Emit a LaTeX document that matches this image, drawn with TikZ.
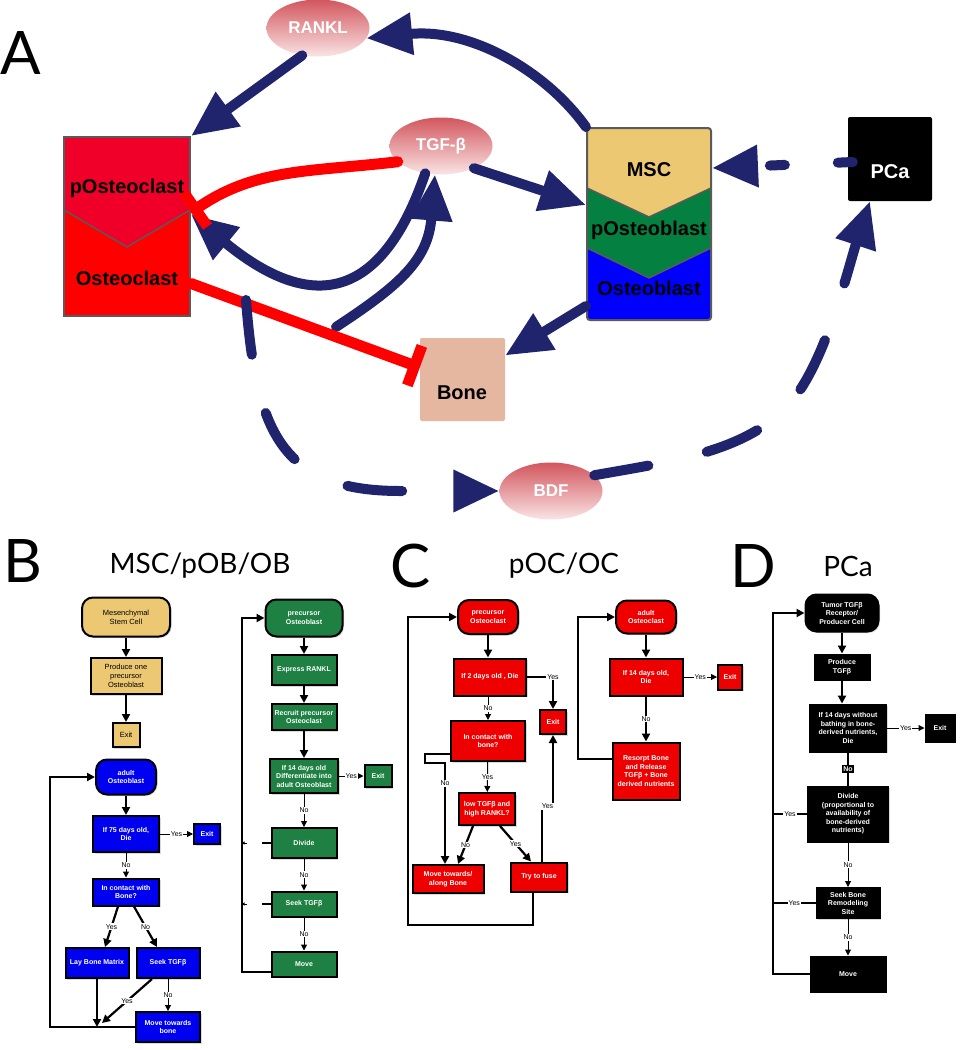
\documentclass[tikz,border=0pt]{standalone}
\usepackage{fontspec}
\setmainfont{Liberation Sans}
\newfontfamily\gillfont{Lato}
\usetikzlibrary{arrows.meta,shapes.geometric,shadows}

\definecolor{navy}{RGB}{32,36,108}
\definecolor{sigtop}{RGB}{210,86,94}
\definecolor{sigbot}{RGB}{250,228,228}
\definecolor{pocred}{RGB}{240,0,40}
\definecolor{ocred}{RGB}{255,0,0}
\definecolor{mscyellow}{RGB}{236,200,114}
\definecolor{obgreen}{RGB}{4,128,64}
\definecolor{obblue}{RGB}{0,0,255}
\definecolor{bonecol}{RGB}{230,183,160}
\definecolor{framegray}{RGB}{90,90,90}
\definecolor{flowred}{RGB}{238,0,0}
\definecolor{flowgreen}{RGB}{30,128,66}
\definecolor{flowblue}{RGB}{0,0,240}

\tikzset{
  panel/.style={font=\gillfont\fontsize{60}{60}\selectfont},
  heading/.style={font=\gillfont\fontsize{28}{30}\selectfont},
  celltext/.style={font=\fontsize{20}{22}\selectfont\bfseries, inner sep=0pt},
  signal/.style={ellipse, minimum width=103pt, minimum height=57pt, top color=sigtop, bottom color=sigbot,
    text=white, font=\fontsize{17}{19}\selectfont\bfseries},
  act/.style={draw=navy, line width=10pt, line cap=round, -{Triangle[length=46pt,width=40pt]}},
  dashact/.style={act, dash pattern=on 55pt off 60pt},
  inhib/.style={draw=ocred, line width=11pt, line cap=round, -{Bar[width=42pt]}},
  fbox/.style={rectangle, draw=black, line width=2pt, inner sep=1pt, align=center, text=white,
    font=\fontsize{7}{8.5}\selectfont\bfseries,
    drop shadow={opacity=0.3, shadow xshift=1.5pt, shadow yshift=-1.5pt}},
  fterm/.style={fbox, rounded corners=11pt},
  yellowbox/.style={fill=mscyellow, text=black, font=\fontsize{7.5}{9}\selectfont},
  fthick/.style={line width=2.2pt, -{Triangle[length=8pt,width=8pt]}},
  fthin/.style={line width=1pt, -{Triangle[length=6pt,width=6pt]}},
  lbl/.style={fill=white, inner sep=1pt, font=\fontsize{7}{8}\selectfont},
  nolbl/.style={fill=black, text=white, inner sep=1.5pt, font=\fontsize{7}{8}\selectfont\bfseries},
}

\begin{document}
\begin{tikzpicture}[x=1pt, y=-1pt]
\useasboundingbox (0,0) rectangle (961,1050);

% A: cells and signals
\node[panel] (labA) at (21,53) {A};

\node[signal] (rankl) at (318,28) {RANKL};
\node[signal] (tgf) at (441,146) {TGF-β};
\node[signal] (bdf) at (551,491) {BDF};

% osteoclast lineage
\fill[pocred] (64,137) -- (190,137) -- (190,210) -- (127,247) -- (64,210) -- cycle;
\fill[ocred] (64,210) -- (127,247) -- (190,210) -- (190,316) -- (64,316) -- cycle;
\draw[framegray, line width=1.5pt] (64,210) -- (127,247) -- (190,210);
\node[draw=framegray, line width=2pt, minimum width=126pt, minimum height=179pt, inner sep=0pt] (oc) at (127,226.5) {};
\node[celltext] (poclab) at (127,188) {pOsteoclast};
\node[celltext] (oclab) at (127,278) {Osteoclast};

% osteoblast lineage
\fill[mscyellow] (587,128) -- (711,128) -- (711,188) -- (649,217) -- (587,188) -- cycle;
\fill[obgreen] (587,188) -- (649,217) -- (711,188) -- (711,248) -- (649,278) -- (587,248) -- cycle;
\fill[obblue] (587,248) -- (649,278) -- (711,248) -- (711,320) -- (587,320) -- cycle;
\draw[framegray, line width=1.5pt] (587,188) -- (649,217) -- (711,188);
\draw[framegray, line width=1.5pt] (587,248) -- (649,278) -- (711,248);
\node[draw=framegray, line width=2pt, rounded corners=3pt, minimum width=124pt, minimum height=192pt, inner sep=0pt] (msc) at (649,224) {};
\node[celltext] (msclab) at (649,170) {MSC};
\node[celltext] (poblab) at (649,230) {pOsteoblast};
\node[celltext] (oblab) at (649,288) {Osteoblast};

\node[fill=bonecol, minimum width=85pt, minimum height=83pt, rounded corners=2pt] (bone) at (462.5,379.5) {};
\node[celltext] (bonelab) at (462,393) {Bone};
\node[fill=black, minimum width=84pt, minimum height=84pt, rounded corners=2pt] (pca) at (890,159) {};
\node[celltext, text=white] (pcalab) at (890,172) {PCa};

\coordinate (ocloop) at (246,300);
\coordinate (boneloop) at (336,327);

% activation
\draw[act] (msc.north west) .. controls (545,70) and (470,28) .. (rankl.-12);
\draw[act] (rankl.-120) -- (oc.north east);
\draw[act] (tgf.-34) -- ([yshift=19pt]msc.west);
\draw[act] (tgf.240) .. controls (375,320) and (295,300) .. ([yshift=12pt]oc.east);
\draw[act] (boneloop) .. controls (400,285) and (428,260) .. (tgf.-102);
\draw[act] ([yshift=15pt]msc.south west) -- ([yshift=24pt]bone.east);
% inhibition
\draw[inhib] (tgf.200) .. controls (310,172) and (255,168) .. ([yshift=14pt]oc.east);
\draw[inhib] ([yshift=-57pt]oc.east) -- ([yshift=12pt]bone.west);
% dashed loops
\draw[dashact] (ocloop) .. controls (256,430) and (280,491) .. (400,491) -- (bdf.west);
\draw[dashact] (bdf.20) .. controls (680,460) and (760,450) .. (800,390)
  .. controls (830,345) and (850,262) .. ([xshift=-20pt]pca.south);
\draw[act, dash pattern=on 15pt off 53pt] ([xshift=5pt,yshift=-3pt]pca.west) -- ([yshift=56pt]msc.east);

% B: MSC/pOB/OB
\node[panel] (labB) at (23,561) {B};
\node[heading] (headB) at (200,566) {MSC/pOB/OB};

\node[fterm, yellowbox, minimum width=88pt, minimum height=39pt] (mscB) at (126,617) {Mesenchymal\\Stem Cell};
\node[fbox, yellowbox, minimum width=71pt, minimum height=36pt] (produceB) at (126,676) {Produce one\\precursor\\Osteoblast};
\node[fbox, yellowbox, minimum width=27pt, minimum height=24pt] (exitB1) at (126,735) {Exit};
\node[fterm, fill=flowblue, minimum width=60pt, minimum height=35pt] (adultOB) at (126,777) {adult\\Osteoblast};
\node[fbox, fill=flowblue, minimum width=66pt, minimum height=36pt] (die75) at (126,834) {If 75 days old,\\Die};
\node[fbox, fill=flowblue, minimum width=26pt, minimum height=20pt] (exitB2) at (207,834) {Exit};
\node[fbox, fill=flowblue, minimum width=66pt, minimum height=27pt] (contactB) at (126,892) {In contact with\\Bone?};
\node[fbox, fill=flowblue, minimum width=63pt, minimum height=30pt] (layB) at (97,963) {Lay Bone Matrix};
\node[fbox, fill=flowblue, minimum width=63pt, minimum height=30pt] (seekB) at (168,963) {Seek TGFβ};
\node[fbox, fill=flowblue, minimum width=64pt, minimum height=30pt] (moveB) at (168,1027) {Move towards\\bone};
\coordinate (jB) at (97,1027);
\coordinate (loopB) at (50,1027);

\draw[fthick] (mscB) -- (produceB);
\draw[fthick] (produceB) -- (exitB1);
\draw[fthick] (adultOB) -- (die75);
\draw[fthin] (die75) -- node[lbl]{Yes} (exitB2);
\draw[fthin] (die75) -- node[lbl]{No} (contactB);
\draw[fthick] ([xshift=-8pt]contactB.south) -- node[lbl]{Yes} ([xshift=8pt]layB.north);
\draw[fthick] ([xshift=8pt]contactB.south) -- node[lbl]{No} ([xshift=-11pt]seekB.north);
\draw[fthin] (seekB) -- node[lbl]{No} (moveB);
\draw[fthick] ([xshift=-16pt]seekB.south) -- node[lbl]{Yes} ([xshift=5pt,yshift=4pt]jB);
\draw[fthick] (layB) -- (jB);
\draw[fthick] (moveB.west) -- (loopB) |- (adultOB.west);

\node[fterm, fill=flowgreen, minimum width=77pt, minimum height=37pt] (pOB) at (304,618) {precursor\\Osteoblast};
\node[fbox, fill=flowgreen, minimum width=65pt, minimum height=30pt] (expr) at (304,670) {Express RANKL};
\node[fbox, fill=flowgreen, minimum width=65pt, minimum height=26pt] (recruit) at (304,717) {Recruit precursor\\Osteoclast};
\node[fbox, fill=flowgreen, minimum width=68pt, minimum height=34pt] (diff14) at (304,776) {If 14 days old\\Differentiate into\\adult Osteoblast};
\node[fbox, fill=flowgreen, minimum width=27pt, minimum height=22pt] (exitB3) at (378,776) {Exit};
\node[fbox, fill=flowgreen, minimum width=65pt, minimum height=30pt] (divide) at (304,843) {Divide};
\node[fbox, fill=flowgreen, minimum width=65pt, minimum height=25pt] (seekB2) at (304,904) {Seek TGFβ};
\node[fbox, fill=flowgreen, minimum width=65pt, minimum height=25pt] (moveB2) at (304,964) {Move};
\coordinate (loopB2) at (242,972);

\draw[fthick] (pOB) -- (expr);
\draw[fthick] (expr) -- (recruit);
\draw[fthick] (recruit) -- (diff14);
\draw[fthin] (diff14) -- node[lbl]{Yes} (exitB3);
\draw[fthin] (diff14) -- node[lbl]{No} (divide);
\draw[fthin] (divide) -- node[lbl]{No} (seekB2);
\draw[fthin] (seekB2) -- node[lbl]{No} (moveB2);
\draw[fthick] ([yshift=-8pt]moveB2.west) -- (loopB2) |- (pOB.west);
\draw[line width=1.5pt] (divide.west) -- ++(-9pt,0pt);
\draw[line width=1pt, -{Triangle[length=3pt,width=3pt]}] ([xshift=-24pt]divide.west) -- ++(-5pt,0pt);
\draw[line width=1.5pt] (seekB2.west) -- ++(-9pt,0pt);
\draw[line width=1pt, -{Triangle[length=3pt,width=3pt]}] ([xshift=-24pt]seekB2.west) -- ++(-5pt,0pt);

% C: pOC/OC
\node[panel] (labC) at (411,566) {C};
\node[heading] (headC) at (564,566) {pOC/OC};

\node[fterm, fill=flowred, minimum width=60pt, minimum height=34pt] (pOC) at (488,617) {precursor\\Osteoclast};
\node[fbox, fill=flowred, minimum width=72pt, minimum height=37pt] (die2) at (490,677) {If 2 days old , Die};
\node[fbox, fill=flowred, minimum width=26pt, minimum height=24pt] (exitC1) at (553,722) {Exit};
\node[fbox, fill=flowred, minimum width=74pt, minimum height=40pt] (contactC) at (488,741) {In contact with\\bone?};
\node[fbox, fill=flowred, minimum width=56pt, minimum height=32pt] (lowC) at (487,809) {low TGFβ and\\high RANKL?};
\node[fbox, fill=flowred, minimum width=71pt, minimum height=28pt] (moveC) at (448,879) {Move towards/\\along Bone};
\node[fbox, fill=flowred, minimum width=56pt, minimum height=29pt] (fuse) at (539,877) {Try to fuse};
\coordinate (loopC) at (408,925);

\draw[fthick] (pOC) -- (pOC |- die2.north);
\draw[fthick] (die2.east) -| node[lbl,pos=0.5]{Yes} (exitC1.north);
\draw[fthin] (contactC |- die2.south) -- node[lbl]{No} (contactC);
\draw[fthin] (contactC) -- node[lbl]{Yes} (lowC);
\draw[fthick] ([yshift=-13pt]contactC.west) -- ++(-25pt,0pt) -- ++(0pt,-9pt) -| node[lbl,pos=0.6]{No} ([xshift=-3pt]moveC.north);
\draw[fthick] ([xshift=-14pt]lowC.south) -- node[lbl]{No} ([xshift=10pt]moveC.north);
\draw[fthick] ([xshift=13pt]lowC.south) -- node[lbl]{Yes} ([xshift=-8pt]fuse.north);
\draw[fthick] ([xshift=3pt]fuse.north) -- ++(0pt,55pt) -| node[lbl,pos=0.25]{Yes} (exitC1.south);
\draw[fthick] ([xshift=-6pt]fuse.south) |- (loopC) |- (pOC.west);

\node[fterm, fill=flowred, minimum width=60pt, minimum height=33pt] (aOC) at (646,617) {adult\\Osteoclast};
\node[fbox, fill=flowred, minimum width=73pt, minimum height=37pt] (die14C) at (646,677) {If 14 days old,\\Die};
\node[fbox, fill=flowred, minimum width=24pt, minimum height=25pt] (exitC2) at (730,677) {Exit};
\node[fbox, fill=flowred, minimum width=67pt, minimum height=57pt] (resorb) at (646,771) {Resorpt Bone\\and Release\\TGFβ + Bone\\derived nutrients};
\coordinate (loopC2) at (578,759);

\draw[fthick] (aOC) -- (die14C);
\draw[fthin] (die14C) -- node[lbl]{Yes} (exitC2);
\draw[fthick] (die14C) -- node[lbl]{No} (resorb);
\draw[fthick] ([yshift=12pt]resorb.west) -- (loopC2) |- (aOC.west);

% D: PCa
\node[panel] (labD) at (753,566) {D};
\node[heading] (headD) at (848,566) {PCa};

\node[fterm, fill=black, minimum width=73pt, minimum height=37pt] (tumor) at (842,613) {Tumor TGFβ\\Receptor/\\Producer Cell};
\node[fbox, fill=black, minimum width=55pt, minimum height=25pt] (prodD) at (842,667) {Produce\\TGFβ};
\node[fbox, fill=black, minimum width=76pt, minimum height=47pt] (die14D) at (848,728) {If 14 days without\\bathing in bone-\\derived nutrients,\\Die};
\node[fbox, fill=black, minimum width=29pt, minimum height=27pt] (exitD) at (940,728) {Exit};
\node[fbox, fill=black, minimum width=80pt, minimum height=55pt] (divD) at (848,814) {Divide\\(proportional to\\availability of\\bone-derived\\nutrients)};
\node[fbox, fill=black, minimum width=63pt, minimum height=30pt] (seekD) at (848,903) {Seek Bone\\Remodeling\\Site};
\node[fbox, fill=black, minimum width=75pt, minimum height=35pt] (moveD) at (848,974) {Move};
\coordinate (loopD) at (773,974);

\draw[fthick] (tumor) -- (prodD);
\draw[fthick] (prodD) -- (prodD |- die14D.north);
\draw[fthin] (die14D) -- node[lbl]{Yes} (exitD);
\draw[line width=2pt] (die14D) -- node[nolbl]{No} (divD);
\draw[fthin] (divD) -- node[lbl]{No} (seekD);
\draw[fthin] (seekD) -- node[lbl]{No} (moveD);
\draw[fthick] (moveD.west) -- (loopD) |- (tumor.west);
\draw[line width=1.2pt] (divD.west) -- node[lbl]{Yes} (divD.west -| loopD);
\draw[line width=1.2pt] (seekD.west) -- node[lbl]{Yes} (seekD.west -| loopD);
\end{tikzpicture}
\end{document}
